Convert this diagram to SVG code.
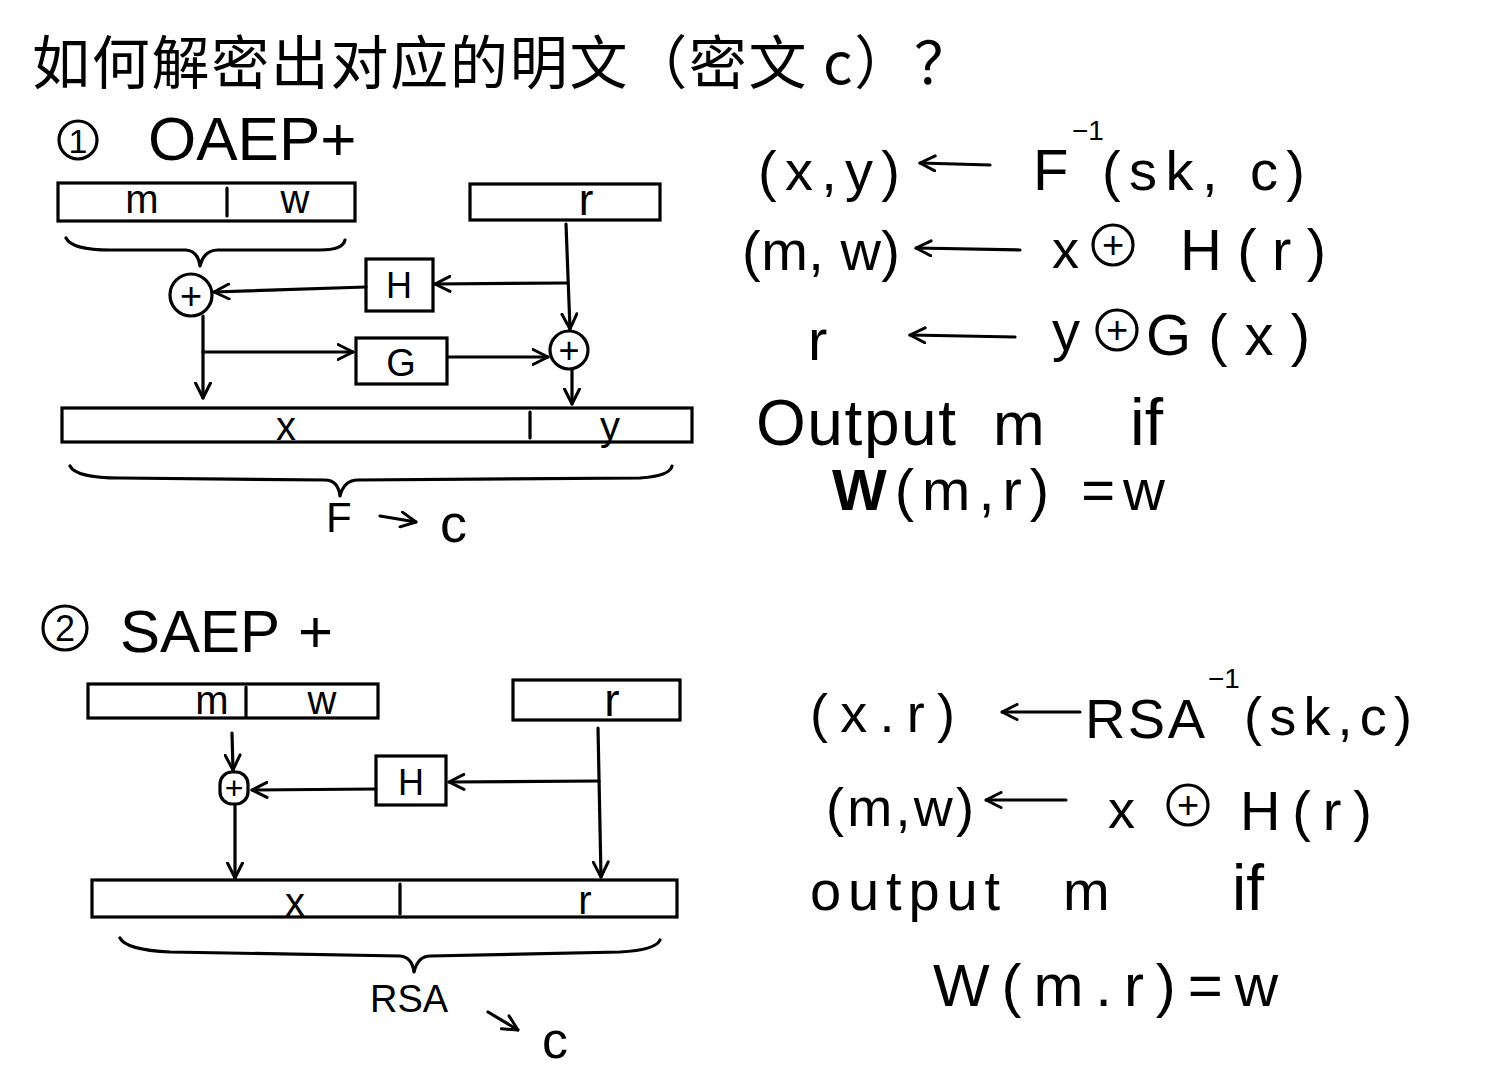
<svg xmlns="http://www.w3.org/2000/svg" width="1485" height="1079" viewBox="0 0 1485 1079">
<defs>
<style>
.ln{fill:none;stroke:#000;stroke-width:3.2;stroke-linecap:round;stroke-linejoin:round}
.bx{fill:#fff;stroke:#000;stroke-width:3.2}
.t{font-family:"Liberation Sans","DejaVu Sans",sans-serif;fill:#000}
.cjk{font-family:"Noto Sans CJK SC","Noto Sans CJK JP",sans-serif;fill:#000}
.c{text-anchor:middle}
</style>
<marker id="ah" viewBox="0 0 12 12" refX="11" refY="6" markerWidth="18" markerHeight="18" markerUnits="userSpaceOnUse" orient="auto">
<path d="M1,1 L11,6 L1,11" fill="none" stroke="#000" stroke-width="2" stroke-linecap="round" stroke-linejoin="round"/>
</marker>
</defs>
<rect width="1485" height="1079" fill="#fff"/>

<g id="title">
<text class="cjk" x="32" y="84" font-size="58" textLength="940" lengthAdjust="spacing">如何解密出对应的明文（密文 c）？</text>
</g>

<!-- Section 1 -->
<g id="heading1">
<circle class="ln" cx="78" cy="140" r="19"/>
<text class="t c" x="78" y="153" font-size="34">1</text>
<text class="t" x="148" y="160" font-size="62">OAEP+</text>
</g>
<g id="box-mw-1">
<rect class="bx" x="58" y="183" width="297" height="38"/>
<line class="ln" x1="227" y1="188" x2="227" y2="216"/>
<text class="t c" x="142" y="213" font-size="40">m</text>
<text class="t c" x="295" y="213" font-size="40">w</text>
</g>
<g id="box-r-1">
<rect class="bx" x="470" y="184" width="190" height="36"/>
<text class="t c" x="586" y="215" font-size="44">r</text>
</g>
<g id="brace-1">
<path class="ln" d="M66,238 Q72,250 110,250 L186,250 Q198,251 200,266 Q204,250 218,250 L320,250 Q343,250 345,240"/>
</g>
<g id="xor-1a">
<circle class="ln" cx="191" cy="295" r="21"/>
<text class="t c" x="191" y="309" font-size="38">+</text>
</g>
<g id="H-1">
<rect class="bx" x="366" y="259" width="67" height="52"/>
<text class="t c" x="399" y="298" font-size="36">H</text>
</g>
<g id="G-1">
<rect class="bx" x="356" y="338" width="91" height="46"/>
<text class="t c" x="401" y="376" font-size="38">G</text>
</g>
<g id="xor-1b">
<circle class="ln" cx="569" cy="350" r="19"/>
<text class="t c" x="569" y="363" font-size="36">+</text>
</g>
<g id="bar-xy">
<rect class="bx" x="62" y="408" width="630" height="34"/>
<line class="ln" x1="530" y1="412" x2="530" y2="438"/>
<text class="t c" x="286" y="440" font-size="40">x</text>
<text class="t c" x="610" y="440" font-size="40">y</text>
</g>
<g id="brace-2">
<path class="ln" d="M70,466 Q76,478 120,478 L325,480 Q338,480 340,496 Q344,480 358,480 L640,478 Q670,476 672,466"/>
</g>
<g id="label-F-c">
<text class="t" x="326" y="532" font-size="42">F</text>
<path class="ln" d="M380,516 L416,522" marker-end="url(#ah)"/>
<text class="t" x="440" y="542" font-size="54">c</text>
</g>

<!-- Section 1 formulas -->
<g id="eq1-1">
<text class="t" x="758" y="190" font-size="56" textLength="142" lengthAdjust="spacing">(x,y)</text>
<text class="t" x="1033" y="190" font-size="58">F</text>
<text class="t" x="1072" y="140" font-size="28">−1</text>
<text class="t" x="1102" y="190" font-size="56" textLength="203" lengthAdjust="spacing">(sk, c)</text>
</g>
<g id="eq1-2">
<text class="t" x="742" y="270" font-size="56" textLength="158" lengthAdjust="spacing">(m, w)</text>
<text class="t" x="1052" y="268" font-size="54">x</text>
<circle class="ln" cx="1113" cy="245" r="20"/>
<text class="t c" x="1113" y="258" font-size="38">+</text>
<text class="t" x="1180" y="270" font-size="58" textLength="146" lengthAdjust="spacing">H(r)</text>
</g>
<g id="eq1-3">
<text class="t" x="808" y="360" font-size="58">r</text>
<text class="t" x="1052" y="350" font-size="56">y</text>
<circle class="ln" cx="1117" cy="330" r="20"/>
<text class="t c" x="1117" y="343" font-size="38">+</text>
<text class="t" x="1146" y="355" font-size="58" textLength="164" lengthAdjust="spacing">G(x)</text>
</g>
<g id="eq1-4">
<text class="t" x="756" y="445" font-size="64" textLength="200" lengthAdjust="spacing">Output</text>
<text class="t" x="993" y="445" font-size="62">m</text>
<text class="t" x="1130" y="445" font-size="66">if</text>
</g>
<g id="eq1-5">
<text class="t" x="832" y="510" font-size="58" textLength="333" lengthAdjust="spacing"><tspan font-weight="bold">W</tspan>(m,r) =w</text>
</g>

<!-- Section 2 -->
<g id="heading2">
<circle class="ln" cx="65" cy="628" r="22"/>
<text class="t c" x="65" y="641" font-size="36">2</text>
<text class="t" x="120" y="652" font-size="60">SAEP</text>
<text class="t" x="298" y="652" font-size="60">+</text>
</g>
<g id="box-mw-2">
<rect class="bx" x="88" y="684" width="290" height="34"/>
<line class="ln" x1="246" y1="687" x2="246" y2="716"/>
<text class="t c" x="212" y="714" font-size="40">m</text>
<text class="t c" x="322" y="714" font-size="40">w</text>
</g>
<g id="box-r-2">
<rect class="bx" x="513" y="680" width="167" height="40"/>
<text class="t c" x="612" y="716" font-size="46">r</text>
</g>
<g id="xor-2">
<rect class="ln" x="220" y="772" width="28" height="32" rx="12"/>
<text class="t c" x="234" y="799" font-size="32">+</text>
</g>
<g id="H-2">
<rect class="bx" x="376" y="756" width="70" height="49"/>
<text class="t c" x="411" y="795" font-size="36">H</text>
</g>
<g id="bar-xr">
<rect class="bx" x="92" y="880" width="585" height="37"/>
<line class="ln" x1="400" y1="884" x2="400" y2="914"/>
<text class="t c" x="295" y="916" font-size="40">x</text>
<text class="t c" x="585" y="914" font-size="40">r</text>
</g>
<g id="brace-3">
<path class="ln" d="M120,938 Q126,950 170,952 L400,956 Q412,957 414,972 Q418,956 430,956 L620,952 Q656,950 660,940"/>
</g>
<g id="label-RSA-c">
<text class="t" x="370" y="1012" font-size="38">RSA</text>
<path class="ln" d="M488,1012 L518,1030" marker-end="url(#ah)"/>
<text class="t" x="542" y="1058" font-size="52">c</text>
</g>

<!-- Section 2 formulas -->
<g id="eq2-1">
<text class="t" x="810" y="732" font-size="54" textLength="145" lengthAdjust="spacing">(x.r)</text>
<text class="t" x="1085" y="738" font-size="56" textLength="120" lengthAdjust="spacing">RSA</text>
<text class="t" x="1208" y="688" font-size="28">−1</text>
<text class="t" x="1244" y="735" font-size="54" textLength="168" lengthAdjust="spacing">(sk,c)</text>
</g>
<g id="eq2-2">
<text class="t" x="826" y="826" font-size="54" textLength="148" lengthAdjust="spacing">(m,w)</text>
<text class="t" x="1108" y="828" font-size="54">x</text>
<circle class="ln" cx="1188" cy="805" r="20"/>
<text class="t c" x="1188" y="818" font-size="38">+</text>
<text class="t" x="1240" y="830" font-size="56" textLength="132" lengthAdjust="spacing">H(r)</text>
</g>
<g id="eq2-3">
<text class="t" x="810" y="910" font-size="56" textLength="190" lengthAdjust="spacing">output</text>
<text class="t" x="1063" y="910" font-size="56">m</text>
<text class="t" x="1232" y="910" font-size="64">if</text>
</g>
<g id="eq2-4">
<text class="t" x="933" y="1006" font-size="60" textLength="345" lengthAdjust="spacing">W(m.r)=w</text>
</g>

<g id="connectors">
<!-- section 1 -->
<path class="ln" d="M566,224 L570,329" marker-end="url(#ah)"/>
<path class="ln" d="M567,283 L435,284" marker-end="url(#ah)"/>
<path class="ln" d="M366,287 L214,292" marker-end="url(#ah)"/>
<path class="ln" d="M203,316 L203,398" marker-end="url(#ah)"/>
<path class="ln" d="M203,352 L353,352" marker-end="url(#ah)"/>
<path class="ln" d="M448,357 L548,357" marker-end="url(#ah)"/>
<path class="ln" d="M572,370 L572,404" marker-end="url(#ah)"/>
<!-- section 1 formula arrows -->
<path class="ln" d="M990,165 L920,163" marker-end="url(#ah)"/>
<path class="ln" d="M1020,250 L916,248" marker-end="url(#ah)"/>
<path class="ln" d="M1015,337 L910,335" marker-end="url(#ah)"/>
<!-- section 2 -->
<path class="ln" d="M232,733 L233,770" marker-end="url(#ah)"/>
<path class="ln" d="M598,728 L601,877" marker-end="url(#ah)"/>
<path class="ln" d="M599,781 L449,782" marker-end="url(#ah)"/>
<path class="ln" d="M376,789 L252,790" marker-end="url(#ah)"/>
<path class="ln" d="M235,806 L235,878" marker-end="url(#ah)"/>
<!-- section 2 formula arrows -->
<path class="ln" d="M1080,712 L1002,712" marker-end="url(#ah)"/>
<path class="ln" d="M1066,800 L986,800" marker-end="url(#ah)"/>
</g>
</svg>
